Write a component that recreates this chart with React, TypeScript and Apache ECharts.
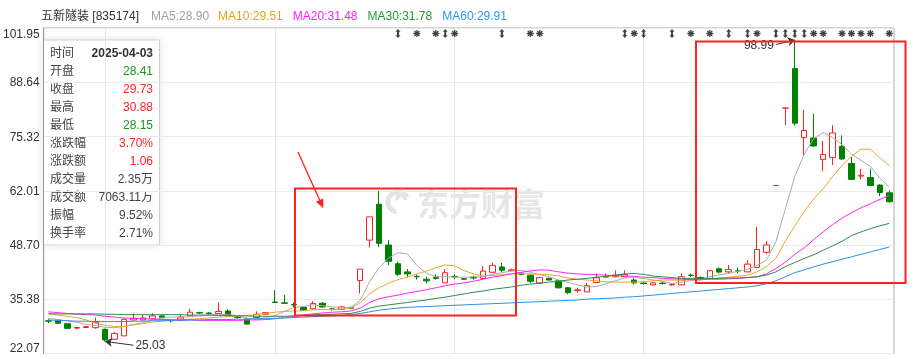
import React, { useEffect, useRef } from 'react';
import * as echarts from 'echarts';

const FONT = '"Liberation Sans", Arial, "Noto Sans CJK SC", sans-serif';
const RED = '#ff2020';
const GREEN = '#008000';

const dates = [
  '2025-03-27','2025-03-28','2025-03-31','2025-04-01','2025-04-02','2025-04-03','2025-04-07','2025-04-08','2025-04-09','2025-04-10',
  '2025-04-11','2025-04-14','2025-04-15','2025-04-16','2025-04-17','2025-04-18','2025-04-21','2025-04-22','2025-04-23','2025-04-24',
  '2025-04-25','2025-04-28','2025-04-29','2025-04-30','2025-05-06','2025-05-07','2025-05-08','2025-05-09','2025-05-12','2025-05-13',
  '2025-05-14','2025-05-15','2025-05-16','2025-05-19','2025-05-20','2025-05-21','2025-05-22','2025-05-23','2025-05-26','2025-05-27',
  '2025-05-28','2025-05-29','2025-05-30','2025-06-03','2025-06-04','2025-06-05','2025-06-06','2025-06-09','2025-06-10','2025-06-11',
  '2025-06-12','2025-06-13','2025-06-16','2025-06-17','2025-06-18','2025-06-19','2025-06-20','2025-06-23','2025-06-24','2025-06-25',
  '2025-06-26','2025-06-27','2025-06-30','2025-07-01','2025-07-02','2025-07-03','2025-07-04','2025-07-07','2025-07-08','2025-07-09',
  '2025-07-10','2025-07-11','2025-07-14','2025-07-15','2025-07-16','2025-07-17','2025-07-18','2025-07-21','2025-07-22','2025-07-23',
  '2025-07-24','2025-07-25','2025-07-28','2025-07-29','2025-07-30','2025-07-31','2025-08-01','2025-08-04','2025-08-05','2025-08-06',
];

const openPrice = [
  30.1, 30.3, 29.4, 28.3, 28.45, 28.41, 28.0, 25.55, 26.4, 30.3,
  30.3, 30.6, 31.3, 30.2, 30.5, 31.3, 32.1, 32.0, 31.9, 32.5,
  31.0, 30.5, 30.9, 31.7, 34.7, 34.5, 34.1, 33.4, 33.05, 34.4,
  33.0, 32.9, 33.3, 40.0, 49.9, 58.7, 48.7, 44.1, 42.1, 41.0,
  40.3, 40.8, 39.4, 41.0, 40.4, 40.7, 40.5, 42.0, 43.3, 42.4,
  41.8, 41.3, 39.4, 40.5, 39.9, 38.2, 37.5, 37.2, 39.5, 40.8,
  40.9, 40.9, 40.1, 39.35, 38.9, 39.35, 38.9, 38.9, 41.3, 40.7,
  40.5, 42.85, 42.1, 42.4, 42.1, 43.2, 46.9, 63.31, 82.3, 92.0,
  75.05, 74.95, 69.7, 70.15, 72.9, 68.7, 65.6, 65.25, 63.4, 61.5,
];
const closePrice = [
  30.0, 29.5, 28.25, 28.45, 28.67, 29.73, 25.4, 27.0, 30.45, 30.7,
  30.8, 31.3, 30.85, 30.1, 31.0, 32.2, 32.0, 31.9, 32.4, 31.3,
  30.9, 29.3, 31.7, 32.1, 34.6, 34.4, 34.0, 32.7, 34.35, 33.5,
  32.95, 33.5, 33.2, 42.8, 55.6, 49.1, 44.7, 41.5, 41.6, 40.9,
  39.9, 40.5, 41.9, 40.9, 40.3, 40.6, 42.3, 43.7, 42.5, 42.6,
  41.5, 39.8, 40.7, 40.1, 38.2, 37.0, 37.7, 38.7, 40.65, 41.0,
  41.3, 41.5, 39.4, 39.25, 39.4, 39.25, 39.0, 40.9, 41.2, 40.6,
  42.4, 42.05, 42.7, 42.35, 44.0, 47.6, 48.7, 63.31, 82.3, 78.6,
  76.8, 73.0, 70.9, 76.2, 69.8, 64.8, 65.8, 63.3, 61.6, 59.3,
];
const lowPrice = [
  29.5, 29.4, 28.0, 28.0, 28.3, 28.15, 25.03, 25.5, 26.3, 30.2,
  30.2, 30.5, 30.8, 29.7, 30.0, 31.1, 31.7, 31.6, 31.7, 31.2,
  30.6, 29.2, 30.7, 31.6, 34.5, 34.2, 33.4, 32.6, 32.9, 33.3,
  32.6, 32.8, 32.9, 36.8, 48.1, 48.2, 43.8, 41.1, 40.8, 40.2,
  39.3, 40.2, 39.4, 40.3, 40.1, 40.2, 40.4, 41.9, 42.0, 42.3,
  41.4, 39.3, 39.2, 40.0, 38.0, 36.6, 37.0, 37.1, 39.4, 40.7,
  40.8, 40.8, 39.0, 39.0, 38.8, 39.0, 38.7, 38.8, 40.8, 40.4,
  40.4, 41.7, 41.8, 41.8, 42.0, 43.0, 46.4, 63.31, 78.1, 78.0,
  70.7, 72.8, 66.8, 68.3, 69.6, 64.7, 64.8, 63.2, 60.7, 59.1,
];
const highPrice = [
  30.5, 30.5, 29.4, 28.6, 28.8, 30.88, 28.2, 27.3, 30.5, 31.9,
  31.6, 32.0, 31.4, 30.5, 31.6, 33.0, 32.3, 32.2, 34.6, 32.9,
  31.3, 30.9, 32.4, 32.2, 37.6, 36.5, 34.6, 33.6, 34.9, 34.7,
  33.3, 33.7, 33.5, 42.8, 55.6, 61.9, 49.9, 44.6, 42.8, 41.5,
  40.9, 41.5, 42.8, 41.5, 40.6, 41.2, 43.5, 44.3, 44.3, 42.9,
  42.0, 41.5, 40.9, 40.7, 40.1, 38.4, 38.2, 39.4, 41.7, 41.7,
  42.5, 42.5, 40.5, 39.6, 39.5, 39.6, 39.2, 41.7, 41.7, 41.0,
  42.4, 43.2, 43.8, 43.2, 45.0, 53.1, 49.7, 63.31, 82.3, 98.99,
  81.9, 80.9, 74.2, 78.1, 75.6, 70.3, 67.4, 67.4, 63.6, 62.1,
];

const ma5 = [
  30.7, 30.4, 30.1, 29.7, 29.2, 28.9, 28.5, 28.4, 28.7, 29.2,
  29.6, 30.3, 30.8, 31.0, 31.0, 31.1, 31.3, 31.5, 31.7, 31.6,
  31.4, 30.7, 30.5, 30.9, 31.4, 32.4, 33.4, 33.6, 34.0, 33.8,
  33.5, 33.4, 33.4, 35.1, 39.7, 43.1, 45.5, 46.8, 46.5, 43.7,
  41.8, 40.9, 40.9, 40.8, 40.8, 40.9, 40.9, 41.5, 41.9, 42.3,
  42.5, 42.0, 41.4, 40.9, 40.1, 39.5, 38.9, 38.4, 38.5, 39.2,
  39.9, 40.6, 40.7, 40.5, 40.1, 39.8, 39.2, 39.6, 40.0, 40.2,
  40.9, 41.4, 41.7, 42.3, 42.7, 43.7, 45.0, 49.5, 57.6, 65.5,
  71.0, 74.8, 76.3, 75.1, 73.3, 71.0, 69.5, 68.0, 65.1, 62.9,
];
const ma10 = [
  31.9, 31.5, 31.2, 30.9, 30.3, 29.5, 29.0, 28.7, 28.7, 29.1,
  29.4, 29.8, 30.0, 30.2, 30.4, 30.5, 30.6, 30.8, 31.0, 31.1,
  31.3, 31.4, 31.6, 31.9, 32.2, 32.4, 32.5, 32.6, 32.8, 32.9,
  32.9, 33.0, 33.2, 34.5, 36.7, 38.2, 39.3, 40.2, 40.8, 41.6,
  42.3, 43.1, 43.8, 43.6, 42.4, 41.6, 41.1, 41.2, 41.4, 41.6,
  41.7, 41.6, 41.5, 41.4, 41.1, 40.6, 40.3, 40.1, 39.9, 39.7,
  39.6, 39.6, 39.6, 39.7, 39.9, 40.1, 40.1, 40.0, 40.2, 40.1,
  40.4, 40.6, 40.8, 41.0, 41.3, 42.1, 43.4, 45.4, 49.7, 53.3,
  57.0, 60.0, 62.5, 65.5, 68.2, 70.5, 72.2, 72.2, 70.1, 68.2,
];
const ma20 = [
  32.3, 32.1, 31.9, 31.7, 31.6, 31.5, 31.2, 31.0, 30.8, 30.7,
  30.6, 30.5, 30.4, 30.4, 30.3, 30.3, 30.2, 30.2, 30.2, 30.2,
  30.2, 30.3, 30.3, 30.4, 30.6, 30.9, 31.2, 31.5, 31.8, 32.0,
  32.2, 32.3, 32.5, 33.2, 34.6, 35.5, 36.0, 36.4, 36.9, 37.3,
  37.7, 38.2, 38.7, 39.1, 39.4, 39.8, 40.3, 40.8, 41.2, 41.6,
  42.0, 42.3, 42.6, 42.5, 42.1, 41.8, 41.6, 41.5, 41.4, 41.3,
  41.2, 41.1, 41.0, 40.8, 40.7, 40.5, 40.4, 40.3, 40.2, 40.2,
  40.3, 40.3, 40.4, 40.5, 40.7, 40.9, 41.6, 42.9, 44.5, 46.4,
  48.0, 50.0, 51.9, 53.7, 55.3, 56.6, 57.8, 58.8, 59.9, 60.8,
];
const ma30 = [
  31.8, 31.8, 31.8, 31.8, 31.8, 31.8, 31.7, 31.7, 31.6, 31.6,
  31.6, 31.6, 31.6, 31.6, 31.6, 31.5, 31.5, 31.5, 31.4, 31.4,
  31.3, 31.3, 31.2, 31.2, 31.2, 31.2, 31.3, 31.4, 31.5, 31.6,
  31.7, 31.8, 31.9, 32.4, 33.2, 33.7, 34.0, 34.3, 34.6, 34.9,
  35.2, 35.6, 35.9, 36.3, 36.7, 37.1, 37.4, 37.8, 38.1, 38.4,
  38.8, 39.1, 39.3, 39.6, 39.8, 40.1, 40.3, 40.5, 40.8, 41.0,
  41.3, 41.6, 41.7, 41.5, 41.1, 40.9, 40.7, 40.5, 40.5, 40.5,
  40.5, 40.5, 40.6, 40.6, 40.7, 40.9, 41.3, 42.1, 43.4, 44.4,
  45.4, 46.3, 47.4, 48.5, 49.6, 51.0, 51.9, 52.7, 53.4, 54.0,
];
const ma60 = [
  30.3, 30.2, 30.1, 30.0, 30.0, 29.9, 29.9, 29.9, 29.9, 30.0,
  30.0, 30.1, 30.1, 30.2, 30.2, 30.3, 30.3, 30.4, 30.4, 30.4,
  30.5, 30.5, 30.6, 30.6, 30.7, 30.8, 30.9, 31.0, 31.1, 31.2,
  31.3, 31.4, 31.6, 31.9, 32.3, 32.7, 33.0, 33.2, 33.4, 33.5,
  33.6, 33.7, 33.8, 33.9, 34.0, 34.1, 34.2, 34.3, 34.4, 34.5,
  34.6, 34.7, 34.8, 34.9, 35.0, 35.1, 35.2, 35.4, 35.5, 35.6,
  35.7, 35.9, 36.0, 36.2, 36.4, 36.6, 36.8, 37.0, 37.2, 37.4,
  37.6, 37.8, 38.0, 38.2, 38.4, 38.7, 39.2, 39.9, 40.9, 41.9,
  42.6, 43.3, 44.0, 44.6, 45.2, 45.8, 46.4, 47.0, 47.6, 48.2,
];

const yTicks = [22.07, 35.38, 48.7, 62.01, 75.32, 88.64, 101.95];
const monthLines = ['2025-04-07', '2025-05-06', '2025-06-03', '2025-07-01'];
const arrowFlagDates = ['2025-05-23','2025-05-30','2025-06-10','2025-06-27','2025-07-01','2025-07-04','2025-07-14','2025-07-16','2025-07-21','2025-07-22','2025-07-23','2025-07-24'];
const starFlagDates = ['2025-05-27','2025-05-29','2025-06-03','2025-06-13','2025-06-16','2025-06-30','2025-07-08','2025-07-10','2025-07-17','2025-07-25','2025-07-28','2025-07-30','2025-07-31','2025-08-01','2025-08-04','2025-08-06'];
const flagLevel = 100.6;

const stockTitle = '五新隧装 [835174]';
const legendItems = [
  { key: 'ma5', name: 'MA5', value: '28.90', color: '#a0a0a0', line: '#aaaaaa' },
  { key: 'ma10', name: 'MA10', value: '29.51', color: '#e9a21c', line: '#eba42a' },
  { key: 'ma20', name: 'MA20', value: '31.48', color: '#ff1aff', line: '#ff22ff' },
  { key: 'ma30', name: 'MA30', value: '31.78', color: '#1f9a35', line: '#2e8b4a' },
  { key: 'ma60', name: 'MA60', value: '29.91', color: '#2f95ef', line: '#2b8fe3' },
];
const maSeries = [ma5, ma10, ma20, ma30, ma60];

const infoLabels = ['时间', '开盘', '收盘', '最高', '最低', '涨跌幅', '涨跌额', '成交量', '成交额', '振幅', '换手率'];
const infoValues = ['2025-04-03', '28.41', '29.73', '30.88', '28.15', '3.70%', '1.06', '2.35万', '7063.11万', '9.52%', '2.71%'];
const infoTones = ['date', 'down', 'up', 'up', 'down', 'up', 'up', 'flat', 'flat', 'flat', 'flat'];

const minMark = { date: 6, value: 25.03, endDate: 9, endValue: 24.1 };
const maxMark = { date: 79, value: 98.99, endDate: 77, endValue: 97.9 };

const ARROW_FLAG = 'path://M5 0 L10 6 L7 6 L7 14 L10 14 L5 20 L0 14 L3 14 L3 6 L0 6 Z';
const STAR_FLAG = 'path://M8.2 0 L11.8 0 L11.8 20 L8.2 20 Z M0 8.2 L20 8.2 L20 11.8 L0 11.8 Z M4.2 1.66 L18.34 15.8 L15.8 18.34 L1.66 4.2 Z M15.8 1.66 L18.34 4.2 L4.2 18.34 L1.66 15.8 Z';

export default function App() {
  const ref = useRef<HTMLDivElement>(null);
  useEffect(() => {
    if (!ref.current) return;
    const chart = echarts.init(ref.current, undefined, { renderer: 'svg' });
    const candleData = dates.map((_, i) => [openPrice[i], closePrice[i], lowPrice[i], highPrice[i]]);

    const gaps = [9, 10, 10, 10, 0];
    const rich: any = {
      n: { color: '#333', fontSize: 12, fontWeight: 'normal', fontFamily: FONT, padding: [0, 12, 0, 0], lineHeight: 16 },
    };
    legendItems.forEach((it, i) => {
      rich[it.key] = { color: it.color, fontSize: 12, fontWeight: 'normal', fontFamily: FONT, padding: [0, gaps[i], 0, 0], lineHeight: 16 };
    });
    const titleText = `{n|${stockTitle}}` + legendItems.map((it) => `{${it.key}|${it.name}:${it.value}}`).join('');

    const toneColor: Record<string, string> = { date: '#333', up: '#ff2222', down: '#1a961a', flat: '#444' };
    const infoChildren: any[] = [
      {
        type: 'rect',
        shape: { x: 43.5, y: 40, width: 116, height: 205 },
        style: { fill: '#fff', stroke: '#cfcfcf', lineWidth: 1, shadowBlur: 8, shadowColor: 'rgba(0,0,0,0.12)' },
      },
    ];
    infoLabels.forEach((lab, i) => {
      const y = 53 + 18 * i;
      infoChildren.push({
        type: 'text', x: 50, y,
        style: { text: lab, fill: '#444', fontSize: 12, fontFamily: FONT, align: 'left', verticalAlign: 'middle' },
      });
      infoChildren.push({
        type: 'text', x: 153, y,
        style: {
          text: infoValues[i], fill: toneColor[infoTones[i]], fontSize: 12, fontFamily: FONT,
          fontWeight: infoTones[i] === 'date' ? 'bold' : 'normal', align: 'right', verticalAlign: 'middle',
        },
      });
    });

    const option: any = {
      animation: false,
      textStyle: { fontFamily: FONT },
      title: {
        left: 41, top: 8, padding: 0,
        text: titleText,
        textStyle: { fontWeight: 'normal', fontSize: 12, rich },
      },
      grid: { left: 42, right: 21, top: 28, bottom: 5.5, show: true, borderColor: '#aaaaaa', borderWidth: 1 },
      xAxis: {
        type: 'category', data: dates, boundaryGap: true,
        axisLine: { show: false }, axisTick: { show: false }, axisLabel: { show: false }, splitLine: { show: false },
      },
      yAxis: {
        type: 'value', min: yTicks[0], max: yTicks[yTicks.length - 1],
        axisLine: { show: true, lineStyle: { color: '#999' } },
        axisTick: { show: false, customValues: yTicks },
        axisLabel: {
          customValues: yTicks, formatter: (v: number) => v.toFixed(2), color: '#333', fontSize: 12, fontFamily: FONT,
          margin: 4, verticalAlignMinLabel: 'bottom', verticalAlignMaxLabel: 'top',
        },
        splitLine: { show: true, lineStyle: { color: '#ebebeb' } },
      },
      series: [
        {
          type: 'candlestick', name: 'K', data: candleData, barWidth: 6,
          itemStyle: { color: '#ffffff', color0: GREEN, borderColor: RED, borderColor0: GREEN, borderWidth: 1 },
          markLine: {
            silent: true, animation: false,
            symbol: ['arrow', 'none'], symbolSize: 7,
            lineStyle: { color: '#333', width: 1, type: 'solid' },
            label: { show: true, position: 'end', color: '#333', fontSize: 12, fontFamily: FONT, distance: 2, formatter: (p: any) => p.name },
            data: [
              [{ coord: [minMark.date, minMark.value], name: minMark.value.toFixed(2) }, { coord: [minMark.endDate, minMark.endValue], name: minMark.value.toFixed(2) }],
              [{ coord: [maxMark.date, maxMark.value], name: maxMark.value.toFixed(2) }, { coord: [maxMark.endDate, maxMark.endValue], name: maxMark.value.toFixed(2) }],
            ],
          },
        },
        ...maSeries.map((d, i) => ({
          type: 'line', name: legendItems[i].name, data: d, symbol: 'none', smooth: false,
          lineStyle: { width: 1, color: legendItems[i].line }, itemStyle: { color: legendItems[i].line }, z: 3,
          ...(i === 4
            ? {
                markLine: {
                  silent: true, animation: false, symbol: 'none', z: 1,
                  label: { show: false },
                  lineStyle: { color: '#e6e6e6', type: 'solid', width: 1 },
                  data: monthLines.map((d2) => ({ xAxis: d2 })),
                },
              }
            : {}),
        })),
        {
          type: 'scatter', name: 'flagA', data: arrowFlagDates.map((d) => [d, flagLevel]),
          symbol: ARROW_FLAG, symbolSize: [5, 9], itemStyle: { color: '#111' }, z: 6, silent: true,
        },
        {
          type: 'scatter', name: 'flagB', data: starFlagDates.map((d) => [d, flagLevel]),
          symbol: STAR_FLAG, symbolSize: [7, 7], itemStyle: { color: '#111' }, z: 6, silent: true,
        },
      ],
      graphic: [
        {
          type: 'group', silent: true, z: 0,
          children: [
            { type: 'arc', shape: { cx: 398, cy: 202, r: 10, startAngle: Math.PI * 0.55, endAngle: Math.PI * 1.85 }, style: { stroke: '#e4e4e4', lineWidth: 5, fill: 'none' } },
            { type: 'arc', shape: { cx: 401, cy: 199, r: 4, startAngle: Math.PI * 0.9, endAngle: Math.PI * 2.1 }, style: { stroke: '#e4e4e4', lineWidth: 4, fill: 'none' } },
            { type: 'text', x: 417, y: 202, style: { text: '东方财富', fill: '#e6e6e6', fontSize: 32, fontWeight: 'bold', fontFamily: '"Noto Sans CJK SC", sans-serif', verticalAlign: 'middle', align: 'left' } },
          ],
        },
        { type: 'rect', z: 100, silent: true, shape: { x: 295, y: 188.5, width: 221, height: 127 }, style: { fill: 'none', stroke: RED, lineWidth: 2 } },
        { type: 'rect', z: 100, silent: true, shape: { x: 696, y: 41.5, width: 209.5, height: 241.5 }, style: { fill: 'none', stroke: RED, lineWidth: 2 } },
        { type: 'line', z: 100, silent: true, shape: { x1: 298, y1: 152, x2: 320.5, y2: 202 }, style: { stroke: RED, lineWidth: 1.3 } },
        { type: 'polygon', z: 100, silent: true, shape: { points: [[323.3, 208.3], [323.25, 198.5], [315.95, 201.7]] }, style: { fill: RED } },
        { type: 'group', z: 110, silent: true, children: infoChildren },
      ],
    };
    chart.setOption(option);
    return () => chart.dispose();
  }, []);
  return <div ref={ref} style={{ position: 'fixed', left: 0, top: 0, width: 915, height: 359 }} />;
}
